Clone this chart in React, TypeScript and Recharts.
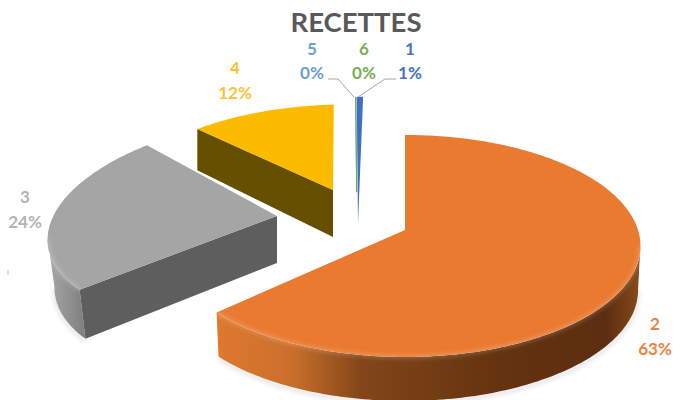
import React from 'react';
import { PieChart, Pie } from 'recharts';

const categories = ['1', '2', '3', '4', '5', '6'];
const values = [1, 63, 24, 12, 0, 0];
const colors = ['#3F6FC6', '#E97A30', '#A5A5A5', '#FDBB00', '#5B9BD5', '#70AD47'];
const labelColors = ['#4472C4', '#E98340', '#B4B4B4', '#F9C233', '#6C9FD3', '#78AE55'];

const data = categories.map((name, i) => ({ name, value: values[i], fill: colors[i] }));

// where each exploded slice lands on the page, and how the fake 3D squashes it
const views: any = {
  '1': { x: 358, y: 224, sx: 0.5, sy: 1.34, shear: 0.04, depth: 0, tilt: 0.144, taper: 0, dk: 0 },
  '2': { x: 405, y: 230, sx: 1, sy: 1, shear: 0, depth: 44, tilt: 0.144, taper: 0.01, dk: 0 },
  '3': { x: 277, y: 216, sx: 0.96, sy: 0.97, shear: 0.42, depth: 47, tilt: 0.03, taper: 0.03, dk: 0.0006 },
  '4': { x: 333, y: 190, sx: 0.937, sy: 0.9, shear: 0.15, depth: 47, tilt: 0.144, taper: 0, dk: 0.002 },
  '5': { x: 358, y: 224, sx: 0.5, sy: 1.34, shear: 0.04, depth: 0, tilt: 0.144, taper: 0, dk: 0 },
  '6': { x: 358, y: 224, sx: 0.5, sy: 1.34, shear: 0.04, depth: 0, tilt: 0.144, taper: 0, dk: 0 },
};

const wallStops: any = {
  '2': [['0%', '#E07830'], ['18%', '#C96F2B'], ['34%', '#834619'], ['67%', '#64330F'], ['92%', '#5C2E10'], ['100%', '#8A4A1C']],
  '3': [['0%', '#A8A8A8'], ['100%', '#7E7E7E']],
  '4': [['0%', '#7A6208'], ['100%', '#665000']],
};
const cutColors: any = { '3': '#5E5E5E', '4': '#665000' };

const labelSpots: any = {
  '1': { x: 410, y: 55, y2: 79 },
  '2': { x: 655, y: 330, y2: 355 },
  '3': { x: 25, y: 203, y2: 228 },
  '4': { x: 235, y: 74, y2: 99 },
  '5': { x: 312, y: 55, y2: 79 },
  '6': { x: 364, y: 55, y2: 79 },
};
const leaders: any = {
  '1': '396,79 385,79 358,97',
  '5': '328,79 338,79 354,97',
};

const FONT = 'Lato, sans-serif';
const FLAT = 0.4665;

function project(view: any, radius: number, deg: number) {
  const a = (deg * Math.PI) / 180;
  const u = Math.sin(a);
  const v = Math.cos(a);
  const s = 1 / (1 + view.tilt * v);
  const ly = -radius * FLAT * v * s * view.sy;
  const lx = radius * u * s * view.sx - view.shear * ly;
  return [view.x + lx, view.y + ly];
}

const pathOf = (pts: number[][], close = true) =>
  pts.map((p, i) => `${i ? 'L' : 'M'}${p[0].toFixed(1)} ${p[1].toFixed(1)}`).join(' ') + (close ? ' Z' : '');

function Slice(props: any) {
  const { name, outerRadius, startAngle, endAngle, fill } = props;
  const view = views[name];
  const from = 90 - startAngle;
  const to = 90 - endAngle;
  const apex = [view.x, view.y];
  const rim: number[][] = [];
  const steps = Math.max(2, Math.ceil(to - from));
  for (let i = 0; i <= steps; i++) {
    rim.push(project(view, outerRadius, from + ((to - from) * i) / steps));
  }

  if (to - from < 0.01) {
    const endX = rim[0][0] + (apex[0] - rim[0][0]) * 0.75 - 1;
    const endY = rim[0][1] + (apex[1] - rim[0][1]) * 0.75;
    return <line x1={endX} y1={endY} x2={rim[0][0] - 1} y2={rim[0][1]} stroke={fill} strokeWidth={1} />;
  }

  const depth = view.depth;
  const down = (p: number[]) => [
    apex[0] + (p[0] - apex[0]) * (1 - view.taper),
    p[1] + depth * (1 + (p[1] - apex[1]) * view.dk),
  ];
  const front = rim.filter((p, i) => i > 0 && rim[i - 1][0] > p[0] + 0.001 || (i < rim.length - 1 && p[0] > rim[i + 1][0] + 0.001));
  const rimWall = front.length > 1 ? pathOf([...front, ...[...front].reverse().map(down)]) : null;
  const cutVisible = rim[0][0] < apex[0] - 0.5;
  const cutWall = depth && cutVisible ? pathOf([apex, rim[0], down(rim[0]), down(apex)]) : null;
  const gid = `wall-${name}`;
  const fid = `soft-${name}`;

  return (
    <g>
      <defs>
        <filter id={fid} x="-20%" y="-20%" width="140%" height="140%">
          <feGaussianBlur stdDeviation="2" />
        </filter>
        {wallStops[name] && (
          <linearGradient id={gid} x1="0" y1="0" x2="1" y2="0">
            {wallStops[name].map((s: any) => (
              <stop key={s[0]} offset={s[0]} stopColor={s[1]} />
            ))}
          </linearGradient>
        )}
      </defs>
      {depth > 0 && front.length > 1 && (
        <path d={pathOf(front.map((p) => { const d = down(p); return [d[0], d[1] + 2]; }), false)} fill="none" stroke="#BDBDBD" strokeWidth={3} opacity={0.5} filter={`url(#${fid})`} />
      )}
      {rimWall && <path d={rimWall} fill={`url(#${gid})`} />}
      {cutWall && <path d={cutWall} fill={cutColors[name]} />}
      <path d={pathOf([apex, ...rim])} fill={fill} />
      {depth > 0 && front.length > 1 && (
        <path d={pathOf(front, false)} fill="none" stroke="#FFFFFF" strokeWidth={3} opacity={0.25} filter={`url(#${fid})`} />
      )}
    </g>
  );
}

function SliceLabel(props: any) {
  const { name, percent, index } = props;
  const spot = labelSpots[name];
  const color = labelColors[index];
  return (
    <g>
      {leaders[name] && <polyline points={leaders[name]} fill="none" stroke="#A6A6A6" strokeWidth={1} />}
      <text x={spot.x} y={spot.y} textAnchor="middle" fontFamily={FONT} fontWeight={700} fontSize={17} fill={color}>
        {name}
      </text>
      <text x={spot.x} y={spot.y2} textAnchor="middle" fontFamily={FONT} fontWeight={700} fontSize={17} fill={color}>
        {Math.round(percent * 100)}%
      </text>
    </g>
  );
}

export default function App() {
  return (
    <div style={{ position: 'absolute', left: 0, top: 0, width: 675, height: 400, background: '#fff', overflow: 'hidden' }}>
      <PieChart width={675} height={400} margin={{ top: 0, right: 0, bottom: 0, left: 0 }}>
        <text x={356} y={32} textAnchor="middle" fontFamily={FONT} fontWeight={700} fontSize={27.5} fill="#595959">
          RECETTES
        </text>
        <line x1={8} y1={270} x2={8} y2={275} stroke="#BBBBBB" strokeWidth={1} />
        <Pie
          data={data}
          dataKey="value"
          nameKey="name"
          cx={405}
          cy={230}
          innerRadius={0}
          outerRadius={233}
          startAngle={93.6}
          endAngle={-266.4}
          stroke="none"
          shape={Slice}
          label={SliceLabel}
          labelLine={false}
          isAnimationActive={false}
        />
      </PieChart>
    </div>
  );
}
